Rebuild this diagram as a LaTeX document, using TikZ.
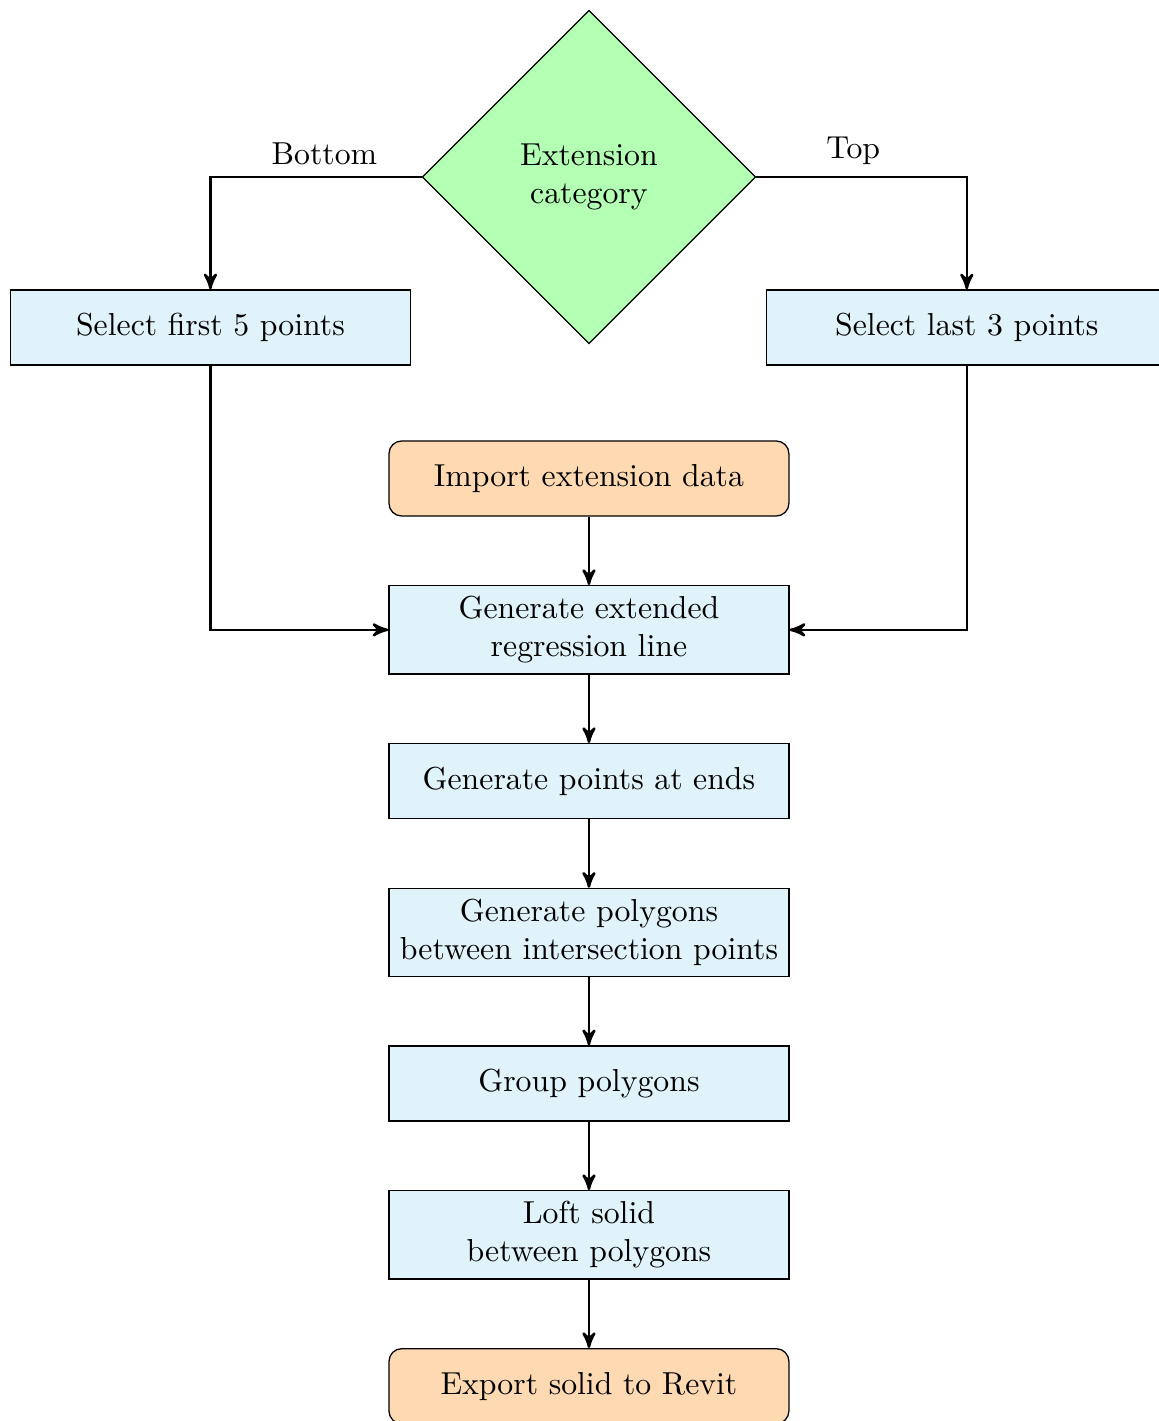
\documentclass[tikz,border=0pt]{standalone}
\usetikzlibrary{shapes.geometric, positioning, arrows}
\usepackage{xcolor}
\definecolor{boxblue}{rgb}{0.878,0.949,0.980}
\definecolor{ioorange}{rgb}{1,0.851,0.698}
\definecolor{decgreen}{rgb}{0.702,1,0.702}

\begin{document}
\begin{tikzpicture}[->,>=stealth',thick,node distance=0.757cm,
  process/.style={rectangle, draw=black, thin, fill=boxblue, text width=4.19cm, minimum height=0.83cm, align=center},
  io/.style={process, rounded corners, fill=ioorange},
  decision/.style={diamond, draw=black, thin, fill=decgreen, minimum width=3.69cm, minimum height=3.69cm, text width=2cm, align=center}]
  \useasboundingbox (-6.515,-13.761) rectangle (6.305,1.958);

  % branch on the category
  \node[decision]                   (cat)    {Extension category};
  \node[process] at (-4.187,-1.665) (first)  {Select first 5 points};
  \node[process] at (4.18,-1.665)   (last)   {Select last 3 points};

  % main chain
  \node[io] at (0,-3.335)           (import) {Import extension data};
  \node[process, below=of import]   (regline){Generate extended\\regression line};
  \node[process, below=of regline]  (ends)   {Generate points at ends};
  \node[process, below=of ends]     (polys)  {Generate polygons\\between intersection points};
  \node[process, below=of polys]    (group)  {Group polygons};
  \node[process, below=of group]    (loft)   {Loft solid\\between polygons};
  \node[io, below=of loft]          (export) {Export solid to Revit};

  \draw (cat.west) -| node[above, pos=0.23]{Bottom} (first.north);
  \draw (cat.east) -| node[above, pos=0.23]{Top} (last.north);
  \draw (first.south) |- (regline.west);
  \draw (last.south) |- (regline.east);

  \draw (import) -- (regline);
  \draw (regline) -- (ends);
  \draw (ends) -- (polys);
  \draw (polys) -- (group);
  \draw (group) -- (loft);
  \draw (loft) -- (export);
\end{tikzpicture}
\end{document}
